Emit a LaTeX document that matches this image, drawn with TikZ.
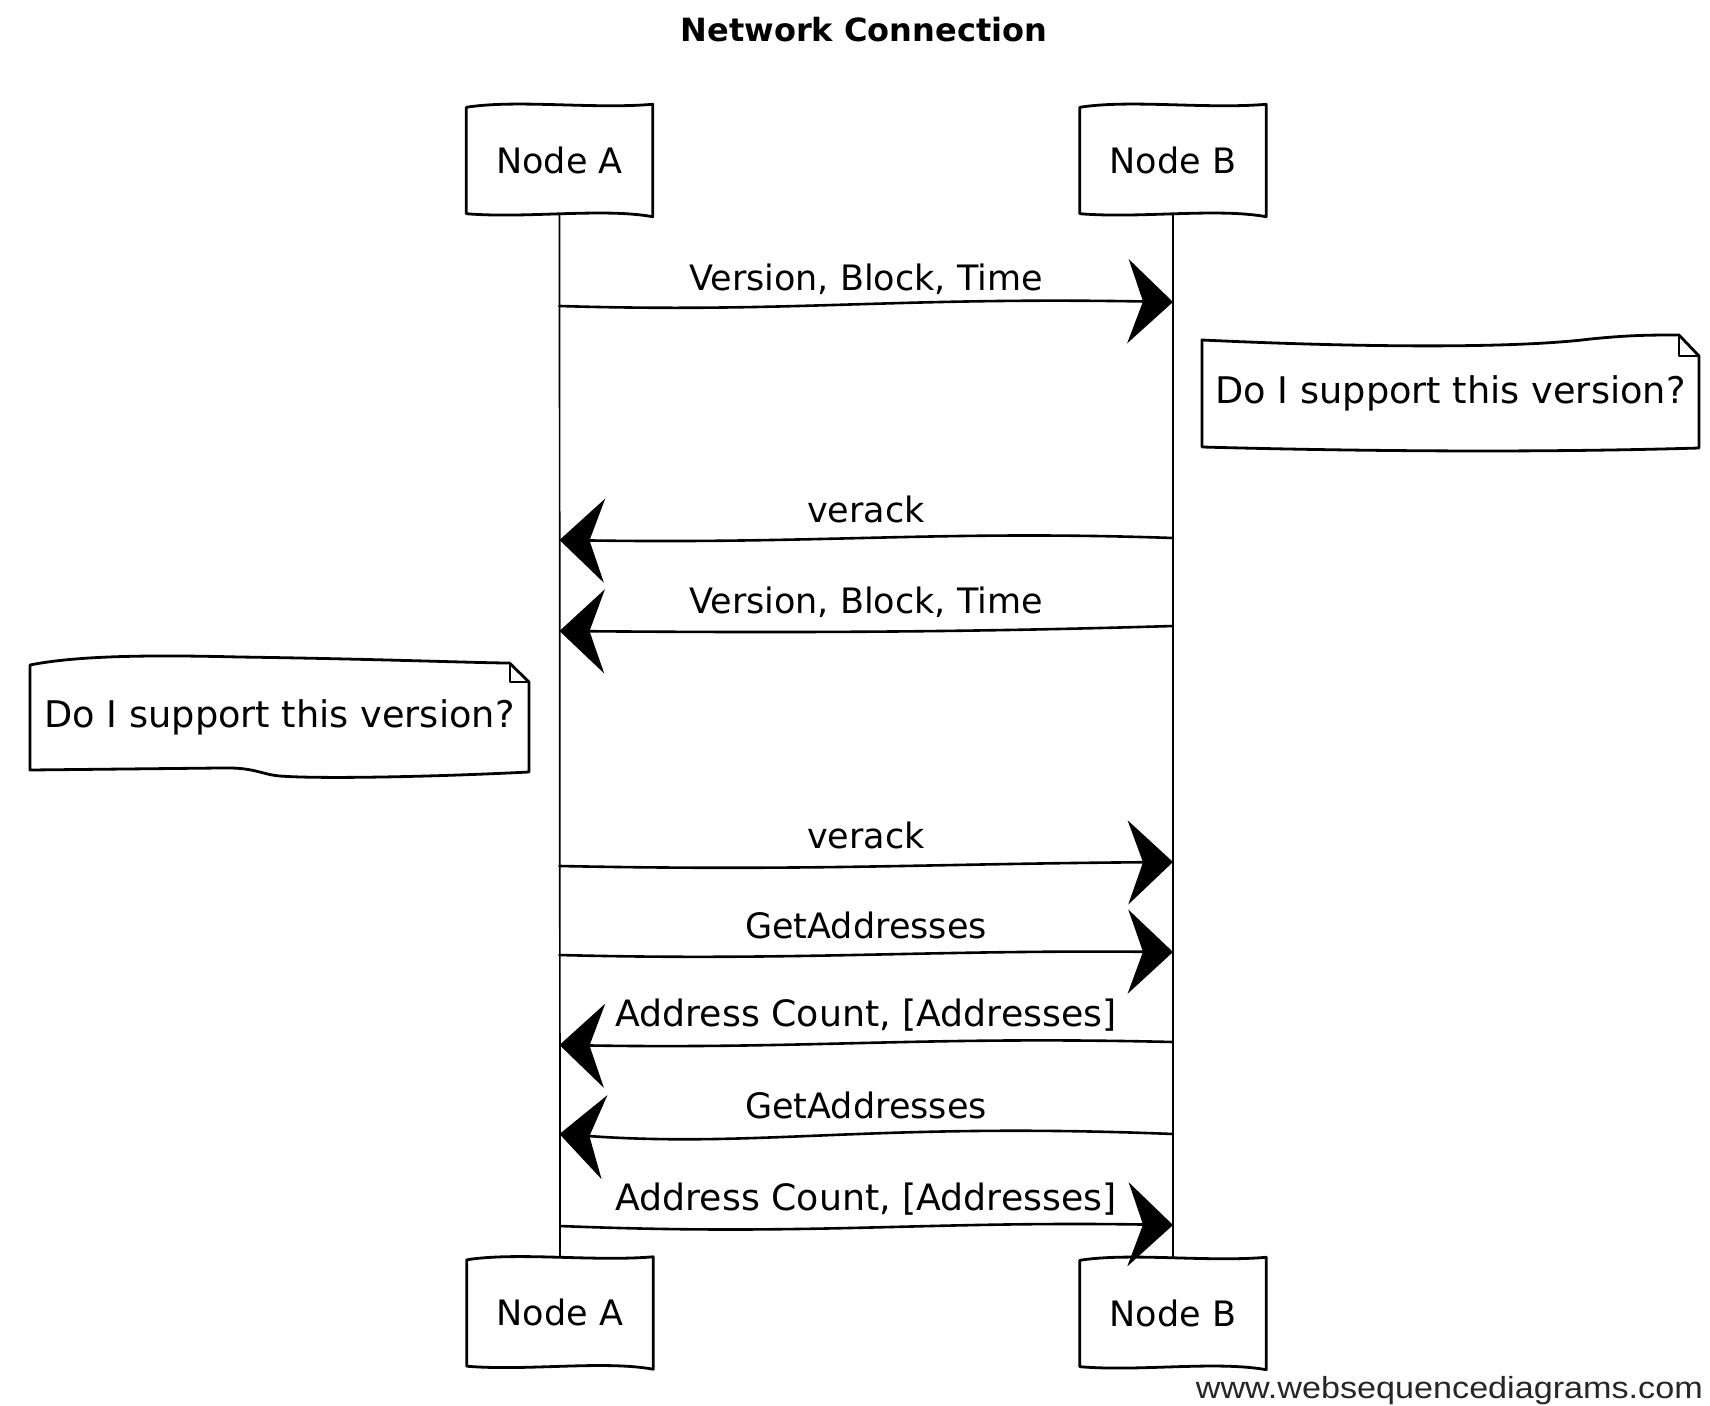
\documentclass[tikz,border=0pt]{standalone}
\usepackage{fontspec}
\setmainfont{DejaVu Sans}
\newfontfamily\footfont{Liberation Sans}
\usetikzlibrary{arrows.meta,calc}
\newcommand\sketchbox[1]{%
  \draw[sketch] ($(#1.north west)+(0,2)$)
    .. controls ($(#1.north west)+(50,-6)$) and ($(#1.north east)+(-60,4)$) .. ($(#1.north east)+(0,-1)$)
    -- ($(#1.south east)+(0,2)$)
    .. controls ($(#1.south east)+(-50,-7)$) and ($(#1.south west)+(60,4)$) .. ($(#1.south west)+(0,-1)$)
    -- cycle;}
\begin{document}
\begin{tikzpicture}[x=1pt,y=-1pt,
  hand/.style={font=\fontsize{35}{40}\selectfont},
  actor/.style={hand, minimum width=186pt, minimum height=109pt, inner sep=0pt},
  notebox/.style={font=\fontsize{36.7}{42}\selectfont, inner sep=0pt},
  sketch/.style={line width=2.8pt, line join=round, line cap=round},
  life/.style={line width=1.7pt},
  msg/.style={line width=2.6pt, line cap=round, -{Stealth[length=45pt,width=84pt,inset=15pt]}},
  lbl/.style={hand, inner sep=0pt, anchor=base}]
\useasboundingbox (0,0) rectangle (1710,1405);
\fill[white] (0,0) rectangle (1710,1405);

% title
\node[font=\bfseries\fontsize{32}{36}\selectfont] (title) at (864,30) {Network Connection};

% actors
\node[actor] (At) at (559.5,160) {Node A};
\node[actor] (Bt) at (1173,160) {Node B};
\node[actor] (Ab) at (560,1312.5) {Node A};
\node[actor] (Bb) at (1173,1313) {Node B};
\sketchbox{At}
\sketchbox{Bt}
\sketchbox{Ab}
\sketchbox{Bb}

% lifelines
\draw[life] (At.south) -- (Ab.north);
\draw[life] (Bt.south) -- (Bb.north);

% message end points on the lifelines
\coordinate (a1) at (At.south |- 0,306);  \coordinate (b1) at (Bt.south |- 0,302);
\coordinate (b2) at (Bt.south |- 0,538);  \coordinate (a2) at (At.south |- 0,540);
\coordinate (b3) at (Bt.south |- 0,626);  \coordinate (a3) at (At.south |- 0,631);
\coordinate (a4) at (At.south |- 0,866);  \coordinate (b4) at (Bt.south |- 0,862);
\coordinate (a5) at (At.south |- 0,955);  \coordinate (b5) at (Bt.south |- 0,952);
\coordinate (b6) at (Bt.south |- 0,1042); \coordinate (a6) at (At.south |- 0,1045);
\coordinate (b7) at (Bt.south |- 0,1134); \coordinate (a7) at (At.south |- 0,1134);
\coordinate (a8) at (Ab.north |- 0,1226); \coordinate (b8) at (Bb.north |- 0,1225);

% messages
\draw[msg] (a1) .. controls +(230,7) and +(-280,-5) .. (b1);
\node[lbl] (l1) at (866,290) {Version, Block, Time};

\draw[msg] (b2) .. controls +(-230,-8) and +(260,4) .. (a2);
\node[lbl] (l2) at (866,522) {verack};

\draw[msg] (b3) .. controls +(-200,6) and +(250,2) .. (a3);
\node[lbl] (l3) at (866,613) {Version, Block, Time};

\draw[msg] (a4) .. controls +(250,5) and +(-250,2) .. (b4);
\node[lbl] (l4) at (866,848) {verack};

\draw[msg] (a5) .. controls +(230,6) and +(-250,-2) .. (b5);
\node[lbl] (l5) at (866,938) {GetAddresses};

\draw[msg] (b6) .. controls +(-250,-6) and +(250,4) .. (a6);
\node[lbl, font=\fontsize{36.3}{41}\selectfont] (l6) at (866,1026) {Address Count, [Addresses]};

\draw[msg] (b7) .. controls +(-300,-12) and +(200,14) .. (a7);
\node[lbl] (l7) at (866,1118) {GetAddresses};

\draw[msg] (a8) .. controls +(250,10) and +(-250,-4) .. (b8);
\node[lbl, font=\fontsize{36.3}{41}\selectfont] (l8) at (866,1210) {Address Count, [Addresses]};

% note 1
\node[notebox, minimum width=497pt, minimum height=110pt] (n1) at (1450.5,393) {Do I support this version?};
\begin{scope}[shift={(n1.center)}]
  \draw[sketch] (-248.5,-53) .. controls (-100,-46) and (60,-44) .. (140,-54)
     .. controls (180,-58) and (200,-58) .. (228.5,-58) -- (248.5,-37) -- (248.5,55)
     .. controls (80,60) and (-100,58) .. (-248.5,54) -- cycle;
  \draw[line width=2pt, line join=round] (228.5,-58) -- (228.5,-37) -- (248.5,-37);
\end{scope}

% note 2
\node[notebox, minimum width=499pt, minimum height=114pt] (n2) at (279.5,717) {Do I support this version?};
\begin{scope}[shift={(n2.center)}]
  \draw[sketch] (-249.5,-52) .. controls (-200,-62) and (-120,-62) .. (-40,-60)
     .. controls (100,-58) and (200,-54) .. (230,-54) -- (249.5,-35) -- (249.5,55)
     .. controls (150,60) and (40,62) .. (0,59)
     .. controls (-20,57) and (-25,50) .. (-60,51)
     -- (-249.5,53) -- cycle;
  \draw[line width=2pt, line join=round] (230,-54) -- (230,-35) -- (249.5,-35);
\end{scope}

% footer
\node[anchor=base east, inner sep=0pt, text=black!85] (footer) at (1703,1398)
  {\scalebox{1.12}[1]{\footfont\fontsize{30.5}{34}\selectfont www.websequencediagrams.com}};
\end{tikzpicture}
\end{document}
